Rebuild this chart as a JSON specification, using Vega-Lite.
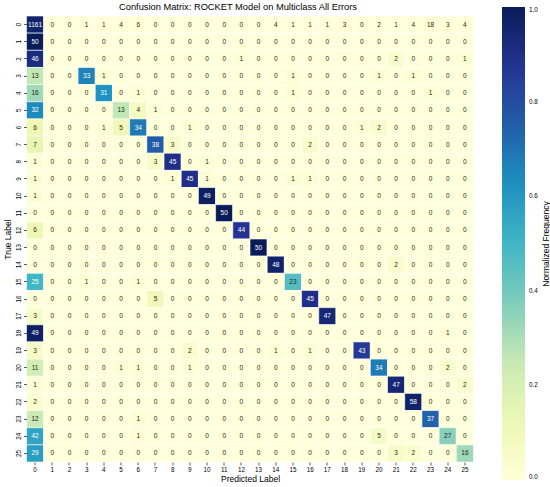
{
"$schema": "https://vega.github.io/schema/vega-lite/v6.json",
"width": 447, "height": 446,
"autosize": "none",
"padding": {"left": 26.5, "top": 16, "right": 76.5, "bottom": 25},
"background": "white",
"title": {"text": "Confusion Matrix: ROCKET Model on Multiclass All Errors", "fontSize": 9.3, "font": "Liberation Sans", "fontWeight": "normal", "color": "#000", "anchor": "middle", "frame": "group", "dx": -12, "offset": -5},
"config": {"view": {"stroke": null}, "font": "Liberation Sans"},
"data": {"values": [
{"t":0,"p":0,"c":1161,"n":0.9556},{"t":0,"p":1,"c":0,"n":0},{"t":0,"p":2,"c":0,"n":0},{"t":0,"p":3,"c":1,"n":0.0008},{"t":0,"p":4,"c":1,"n":0.0008},{"t":0,"p":5,"c":4,"n":0.0033},{"t":0,"p":6,"c":6,"n":0.0049},{"t":0,"p":7,"c":0,"n":0},{"t":0,"p":8,"c":0,"n":0},{"t":0,"p":9,"c":0,"n":0},{"t":0,"p":10,"c":0,"n":0},{"t":0,"p":11,"c":0,"n":0},{"t":0,"p":12,"c":0,"n":0},{"t":0,"p":13,"c":0,"n":0},{"t":0,"p":14,"c":4,"n":0.0033},{"t":0,"p":15,"c":1,"n":0.0008},{"t":0,"p":16,"c":1,"n":0.0008},{"t":0,"p":17,"c":1,"n":0.0008},{"t":0,"p":18,"c":3,"n":0.0025},{"t":0,"p":19,"c":0,"n":0},{"t":0,"p":20,"c":2,"n":0.0016},{"t":0,"p":21,"c":1,"n":0.0008},{"t":0,"p":22,"c":4,"n":0.0033},{"t":0,"p":23,"c":18,"n":0.0148},{"t":0,"p":24,"c":3,"n":0.0025},{"t":0,"p":25,"c":4,"n":0.0033},
{"t":1,"p":0,"c":50,"n":1},{"t":1,"p":1,"c":0,"n":0},{"t":1,"p":2,"c":0,"n":0},{"t":1,"p":3,"c":0,"n":0},{"t":1,"p":4,"c":0,"n":0},{"t":1,"p":5,"c":0,"n":0},{"t":1,"p":6,"c":0,"n":0},{"t":1,"p":7,"c":0,"n":0},{"t":1,"p":8,"c":0,"n":0},{"t":1,"p":9,"c":0,"n":0},{"t":1,"p":10,"c":0,"n":0},{"t":1,"p":11,"c":0,"n":0},{"t":1,"p":12,"c":0,"n":0},{"t":1,"p":13,"c":0,"n":0},{"t":1,"p":14,"c":0,"n":0},{"t":1,"p":15,"c":0,"n":0},{"t":1,"p":16,"c":0,"n":0},{"t":1,"p":17,"c":0,"n":0},{"t":1,"p":18,"c":0,"n":0},{"t":1,"p":19,"c":0,"n":0},{"t":1,"p":20,"c":0,"n":0},{"t":1,"p":21,"c":0,"n":0},{"t":1,"p":22,"c":0,"n":0},{"t":1,"p":23,"c":0,"n":0},{"t":1,"p":24,"c":0,"n":0},{"t":1,"p":25,"c":0,"n":0},
{"t":2,"p":0,"c":46,"n":0.92},{"t":2,"p":1,"c":0,"n":0},{"t":2,"p":2,"c":0,"n":0},{"t":2,"p":3,"c":0,"n":0},{"t":2,"p":4,"c":0,"n":0},{"t":2,"p":5,"c":0,"n":0},{"t":2,"p":6,"c":0,"n":0},{"t":2,"p":7,"c":0,"n":0},{"t":2,"p":8,"c":0,"n":0},{"t":2,"p":9,"c":0,"n":0},{"t":2,"p":10,"c":0,"n":0},{"t":2,"p":11,"c":0,"n":0},{"t":2,"p":12,"c":1,"n":0.02},{"t":2,"p":13,"c":0,"n":0},{"t":2,"p":14,"c":0,"n":0},{"t":2,"p":15,"c":0,"n":0},{"t":2,"p":16,"c":0,"n":0},{"t":2,"p":17,"c":0,"n":0},{"t":2,"p":18,"c":0,"n":0},{"t":2,"p":19,"c":0,"n":0},{"t":2,"p":20,"c":0,"n":0},{"t":2,"p":21,"c":2,"n":0.04},{"t":2,"p":22,"c":0,"n":0},{"t":2,"p":23,"c":0,"n":0},{"t":2,"p":24,"c":0,"n":0},{"t":2,"p":25,"c":1,"n":0.02},
{"t":3,"p":0,"c":13,"n":0.26},{"t":3,"p":1,"c":0,"n":0},{"t":3,"p":2,"c":0,"n":0},{"t":3,"p":3,"c":33,"n":0.66},{"t":3,"p":4,"c":1,"n":0.02},{"t":3,"p":5,"c":0,"n":0},{"t":3,"p":6,"c":0,"n":0},{"t":3,"p":7,"c":0,"n":0},{"t":3,"p":8,"c":0,"n":0},{"t":3,"p":9,"c":0,"n":0},{"t":3,"p":10,"c":0,"n":0},{"t":3,"p":11,"c":0,"n":0},{"t":3,"p":12,"c":0,"n":0},{"t":3,"p":13,"c":0,"n":0},{"t":3,"p":14,"c":0,"n":0},{"t":3,"p":15,"c":1,"n":0.02},{"t":3,"p":16,"c":0,"n":0},{"t":3,"p":17,"c":0,"n":0},{"t":3,"p":18,"c":0,"n":0},{"t":3,"p":19,"c":0,"n":0},{"t":3,"p":20,"c":1,"n":0.02},{"t":3,"p":21,"c":0,"n":0},{"t":3,"p":22,"c":1,"n":0.02},{"t":3,"p":23,"c":0,"n":0},{"t":3,"p":24,"c":0,"n":0},{"t":3,"p":25,"c":0,"n":0},
{"t":4,"p":0,"c":16,"n":0.32},{"t":4,"p":1,"c":0,"n":0},{"t":4,"p":2,"c":0,"n":0},{"t":4,"p":3,"c":0,"n":0},{"t":4,"p":4,"c":31,"n":0.62},{"t":4,"p":5,"c":0,"n":0},{"t":4,"p":6,"c":1,"n":0.02},{"t":4,"p":7,"c":0,"n":0},{"t":4,"p":8,"c":0,"n":0},{"t":4,"p":9,"c":0,"n":0},{"t":4,"p":10,"c":0,"n":0},{"t":4,"p":11,"c":0,"n":0},{"t":4,"p":12,"c":0,"n":0},{"t":4,"p":13,"c":0,"n":0},{"t":4,"p":14,"c":0,"n":0},{"t":4,"p":15,"c":1,"n":0.02},{"t":4,"p":16,"c":0,"n":0},{"t":4,"p":17,"c":0,"n":0},{"t":4,"p":18,"c":0,"n":0},{"t":4,"p":19,"c":0,"n":0},{"t":4,"p":20,"c":0,"n":0},{"t":4,"p":21,"c":0,"n":0},{"t":4,"p":22,"c":0,"n":0},{"t":4,"p":23,"c":1,"n":0.02},{"t":4,"p":24,"c":0,"n":0},{"t":4,"p":25,"c":0,"n":0},
{"t":5,"p":0,"c":32,"n":0.64},{"t":5,"p":1,"c":0,"n":0},{"t":5,"p":2,"c":0,"n":0},{"t":5,"p":3,"c":0,"n":0},{"t":5,"p":4,"c":0,"n":0},{"t":5,"p":5,"c":13,"n":0.26},{"t":5,"p":6,"c":4,"n":0.08},{"t":5,"p":7,"c":1,"n":0.02},{"t":5,"p":8,"c":0,"n":0},{"t":5,"p":9,"c":0,"n":0},{"t":5,"p":10,"c":0,"n":0},{"t":5,"p":11,"c":0,"n":0},{"t":5,"p":12,"c":0,"n":0},{"t":5,"p":13,"c":0,"n":0},{"t":5,"p":14,"c":0,"n":0},{"t":5,"p":15,"c":0,"n":0},{"t":5,"p":16,"c":0,"n":0},{"t":5,"p":17,"c":0,"n":0},{"t":5,"p":18,"c":0,"n":0},{"t":5,"p":19,"c":0,"n":0},{"t":5,"p":20,"c":0,"n":0},{"t":5,"p":21,"c":0,"n":0},{"t":5,"p":22,"c":0,"n":0},{"t":5,"p":23,"c":0,"n":0},{"t":5,"p":24,"c":0,"n":0},{"t":5,"p":25,"c":0,"n":0},
{"t":6,"p":0,"c":6,"n":0.12},{"t":6,"p":1,"c":0,"n":0},{"t":6,"p":2,"c":0,"n":0},{"t":6,"p":3,"c":0,"n":0},{"t":6,"p":4,"c":1,"n":0.02},{"t":6,"p":5,"c":5,"n":0.1},{"t":6,"p":6,"c":34,"n":0.68},{"t":6,"p":7,"c":0,"n":0},{"t":6,"p":8,"c":0,"n":0},{"t":6,"p":9,"c":1,"n":0.02},{"t":6,"p":10,"c":0,"n":0},{"t":6,"p":11,"c":0,"n":0},{"t":6,"p":12,"c":0,"n":0},{"t":6,"p":13,"c":0,"n":0},{"t":6,"p":14,"c":0,"n":0},{"t":6,"p":15,"c":0,"n":0},{"t":6,"p":16,"c":0,"n":0},{"t":6,"p":17,"c":0,"n":0},{"t":6,"p":18,"c":0,"n":0},{"t":6,"p":19,"c":1,"n":0.02},{"t":6,"p":20,"c":2,"n":0.04},{"t":6,"p":21,"c":0,"n":0},{"t":6,"p":22,"c":0,"n":0},{"t":6,"p":23,"c":0,"n":0},{"t":6,"p":24,"c":0,"n":0},{"t":6,"p":25,"c":0,"n":0},
{"t":7,"p":0,"c":7,"n":0.14},{"t":7,"p":1,"c":0,"n":0},{"t":7,"p":2,"c":0,"n":0},{"t":7,"p":3,"c":0,"n":0},{"t":7,"p":4,"c":0,"n":0},{"t":7,"p":5,"c":0,"n":0},{"t":7,"p":6,"c":0,"n":0},{"t":7,"p":7,"c":38,"n":0.76},{"t":7,"p":8,"c":3,"n":0.06},{"t":7,"p":9,"c":0,"n":0},{"t":7,"p":10,"c":0,"n":0},{"t":7,"p":11,"c":0,"n":0},{"t":7,"p":12,"c":0,"n":0},{"t":7,"p":13,"c":0,"n":0},{"t":7,"p":14,"c":0,"n":0},{"t":7,"p":15,"c":0,"n":0},{"t":7,"p":16,"c":2,"n":0.04},{"t":7,"p":17,"c":0,"n":0},{"t":7,"p":18,"c":0,"n":0},{"t":7,"p":19,"c":0,"n":0},{"t":7,"p":20,"c":0,"n":0},{"t":7,"p":21,"c":0,"n":0},{"t":7,"p":22,"c":0,"n":0},{"t":7,"p":23,"c":0,"n":0},{"t":7,"p":24,"c":0,"n":0},{"t":7,"p":25,"c":0,"n":0},
{"t":8,"p":0,"c":1,"n":0.02},{"t":8,"p":1,"c":0,"n":0},{"t":8,"p":2,"c":0,"n":0},{"t":8,"p":3,"c":0,"n":0},{"t":8,"p":4,"c":0,"n":0},{"t":8,"p":5,"c":0,"n":0},{"t":8,"p":6,"c":0,"n":0},{"t":8,"p":7,"c":3,"n":0.06},{"t":8,"p":8,"c":45,"n":0.9},{"t":8,"p":9,"c":0,"n":0},{"t":8,"p":10,"c":1,"n":0.02},{"t":8,"p":11,"c":0,"n":0},{"t":8,"p":12,"c":0,"n":0},{"t":8,"p":13,"c":0,"n":0},{"t":8,"p":14,"c":0,"n":0},{"t":8,"p":15,"c":0,"n":0},{"t":8,"p":16,"c":0,"n":0},{"t":8,"p":17,"c":0,"n":0},{"t":8,"p":18,"c":0,"n":0},{"t":8,"p":19,"c":0,"n":0},{"t":8,"p":20,"c":0,"n":0},{"t":8,"p":21,"c":0,"n":0},{"t":8,"p":22,"c":0,"n":0},{"t":8,"p":23,"c":0,"n":0},{"t":8,"p":24,"c":0,"n":0},{"t":8,"p":25,"c":0,"n":0},
{"t":9,"p":0,"c":1,"n":0.02},{"t":9,"p":1,"c":0,"n":0},{"t":9,"p":2,"c":0,"n":0},{"t":9,"p":3,"c":0,"n":0},{"t":9,"p":4,"c":0,"n":0},{"t":9,"p":5,"c":0,"n":0},{"t":9,"p":6,"c":0,"n":0},{"t":9,"p":7,"c":0,"n":0},{"t":9,"p":8,"c":1,"n":0.02},{"t":9,"p":9,"c":45,"n":0.9},{"t":9,"p":10,"c":1,"n":0.02},{"t":9,"p":11,"c":0,"n":0},{"t":9,"p":12,"c":0,"n":0},{"t":9,"p":13,"c":0,"n":0},{"t":9,"p":14,"c":0,"n":0},{"t":9,"p":15,"c":1,"n":0.02},{"t":9,"p":16,"c":1,"n":0.02},{"t":9,"p":17,"c":0,"n":0},{"t":9,"p":18,"c":0,"n":0},{"t":9,"p":19,"c":0,"n":0},{"t":9,"p":20,"c":0,"n":0},{"t":9,"p":21,"c":0,"n":0},{"t":9,"p":22,"c":0,"n":0},{"t":9,"p":23,"c":0,"n":0},{"t":9,"p":24,"c":0,"n":0},{"t":9,"p":25,"c":0,"n":0},
{"t":10,"p":0,"c":1,"n":0.02},{"t":10,"p":1,"c":0,"n":0},{"t":10,"p":2,"c":0,"n":0},{"t":10,"p":3,"c":0,"n":0},{"t":10,"p":4,"c":0,"n":0},{"t":10,"p":5,"c":0,"n":0},{"t":10,"p":6,"c":0,"n":0},{"t":10,"p":7,"c":0,"n":0},{"t":10,"p":8,"c":0,"n":0},{"t":10,"p":9,"c":0,"n":0},{"t":10,"p":10,"c":49,"n":0.98},{"t":10,"p":11,"c":0,"n":0},{"t":10,"p":12,"c":0,"n":0},{"t":10,"p":13,"c":0,"n":0},{"t":10,"p":14,"c":0,"n":0},{"t":10,"p":15,"c":0,"n":0},{"t":10,"p":16,"c":0,"n":0},{"t":10,"p":17,"c":0,"n":0},{"t":10,"p":18,"c":0,"n":0},{"t":10,"p":19,"c":0,"n":0},{"t":10,"p":20,"c":0,"n":0},{"t":10,"p":21,"c":0,"n":0},{"t":10,"p":22,"c":0,"n":0},{"t":10,"p":23,"c":0,"n":0},{"t":10,"p":24,"c":0,"n":0},{"t":10,"p":25,"c":0,"n":0},
{"t":11,"p":0,"c":0,"n":0},{"t":11,"p":1,"c":0,"n":0},{"t":11,"p":2,"c":0,"n":0},{"t":11,"p":3,"c":0,"n":0},{"t":11,"p":4,"c":0,"n":0},{"t":11,"p":5,"c":0,"n":0},{"t":11,"p":6,"c":0,"n":0},{"t":11,"p":7,"c":0,"n":0},{"t":11,"p":8,"c":0,"n":0},{"t":11,"p":9,"c":0,"n":0},{"t":11,"p":10,"c":0,"n":0},{"t":11,"p":11,"c":50,"n":1},{"t":11,"p":12,"c":0,"n":0},{"t":11,"p":13,"c":0,"n":0},{"t":11,"p":14,"c":0,"n":0},{"t":11,"p":15,"c":0,"n":0},{"t":11,"p":16,"c":0,"n":0},{"t":11,"p":17,"c":0,"n":0},{"t":11,"p":18,"c":0,"n":0},{"t":11,"p":19,"c":0,"n":0},{"t":11,"p":20,"c":0,"n":0},{"t":11,"p":21,"c":0,"n":0},{"t":11,"p":22,"c":0,"n":0},{"t":11,"p":23,"c":0,"n":0},{"t":11,"p":24,"c":0,"n":0},{"t":11,"p":25,"c":0,"n":0},
{"t":12,"p":0,"c":6,"n":0.12},{"t":12,"p":1,"c":0,"n":0},{"t":12,"p":2,"c":0,"n":0},{"t":12,"p":3,"c":0,"n":0},{"t":12,"p":4,"c":0,"n":0},{"t":12,"p":5,"c":0,"n":0},{"t":12,"p":6,"c":0,"n":0},{"t":12,"p":7,"c":0,"n":0},{"t":12,"p":8,"c":0,"n":0},{"t":12,"p":9,"c":0,"n":0},{"t":12,"p":10,"c":0,"n":0},{"t":12,"p":11,"c":0,"n":0},{"t":12,"p":12,"c":44,"n":0.88},{"t":12,"p":13,"c":0,"n":0},{"t":12,"p":14,"c":0,"n":0},{"t":12,"p":15,"c":0,"n":0},{"t":12,"p":16,"c":0,"n":0},{"t":12,"p":17,"c":0,"n":0},{"t":12,"p":18,"c":0,"n":0},{"t":12,"p":19,"c":0,"n":0},{"t":12,"p":20,"c":0,"n":0},{"t":12,"p":21,"c":0,"n":0},{"t":12,"p":22,"c":0,"n":0},{"t":12,"p":23,"c":0,"n":0},{"t":12,"p":24,"c":0,"n":0},{"t":12,"p":25,"c":0,"n":0},
{"t":13,"p":0,"c":0,"n":0},{"t":13,"p":1,"c":0,"n":0},{"t":13,"p":2,"c":0,"n":0},{"t":13,"p":3,"c":0,"n":0},{"t":13,"p":4,"c":0,"n":0},{"t":13,"p":5,"c":0,"n":0},{"t":13,"p":6,"c":0,"n":0},{"t":13,"p":7,"c":0,"n":0},{"t":13,"p":8,"c":0,"n":0},{"t":13,"p":9,"c":0,"n":0},{"t":13,"p":10,"c":0,"n":0},{"t":13,"p":11,"c":0,"n":0},{"t":13,"p":12,"c":0,"n":0},{"t":13,"p":13,"c":50,"n":1},{"t":13,"p":14,"c":0,"n":0},{"t":13,"p":15,"c":0,"n":0},{"t":13,"p":16,"c":0,"n":0},{"t":13,"p":17,"c":0,"n":0},{"t":13,"p":18,"c":0,"n":0},{"t":13,"p":19,"c":0,"n":0},{"t":13,"p":20,"c":0,"n":0},{"t":13,"p":21,"c":0,"n":0},{"t":13,"p":22,"c":0,"n":0},{"t":13,"p":23,"c":0,"n":0},{"t":13,"p":24,"c":0,"n":0},{"t":13,"p":25,"c":0,"n":0},
{"t":14,"p":0,"c":0,"n":0},{"t":14,"p":1,"c":0,"n":0},{"t":14,"p":2,"c":0,"n":0},{"t":14,"p":3,"c":0,"n":0},{"t":14,"p":4,"c":0,"n":0},{"t":14,"p":5,"c":0,"n":0},{"t":14,"p":6,"c":0,"n":0},{"t":14,"p":7,"c":0,"n":0},{"t":14,"p":8,"c":0,"n":0},{"t":14,"p":9,"c":0,"n":0},{"t":14,"p":10,"c":0,"n":0},{"t":14,"p":11,"c":0,"n":0},{"t":14,"p":12,"c":0,"n":0},{"t":14,"p":13,"c":0,"n":0},{"t":14,"p":14,"c":48,"n":0.96},{"t":14,"p":15,"c":0,"n":0},{"t":14,"p":16,"c":0,"n":0},{"t":14,"p":17,"c":0,"n":0},{"t":14,"p":18,"c":0,"n":0},{"t":14,"p":19,"c":0,"n":0},{"t":14,"p":20,"c":0,"n":0},{"t":14,"p":21,"c":2,"n":0.04},{"t":14,"p":22,"c":0,"n":0},{"t":14,"p":23,"c":0,"n":0},{"t":14,"p":24,"c":0,"n":0},{"t":14,"p":25,"c":0,"n":0},
{"t":15,"p":0,"c":25,"n":0.5},{"t":15,"p":1,"c":0,"n":0},{"t":15,"p":2,"c":0,"n":0},{"t":15,"p":3,"c":1,"n":0.02},{"t":15,"p":4,"c":0,"n":0},{"t":15,"p":5,"c":0,"n":0},{"t":15,"p":6,"c":1,"n":0.02},{"t":15,"p":7,"c":0,"n":0},{"t":15,"p":8,"c":0,"n":0},{"t":15,"p":9,"c":0,"n":0},{"t":15,"p":10,"c":0,"n":0},{"t":15,"p":11,"c":0,"n":0},{"t":15,"p":12,"c":0,"n":0},{"t":15,"p":13,"c":0,"n":0},{"t":15,"p":14,"c":0,"n":0},{"t":15,"p":15,"c":23,"n":0.46},{"t":15,"p":16,"c":0,"n":0},{"t":15,"p":17,"c":0,"n":0},{"t":15,"p":18,"c":0,"n":0},{"t":15,"p":19,"c":0,"n":0},{"t":15,"p":20,"c":0,"n":0},{"t":15,"p":21,"c":0,"n":0},{"t":15,"p":22,"c":0,"n":0},{"t":15,"p":23,"c":0,"n":0},{"t":15,"p":24,"c":0,"n":0},{"t":15,"p":25,"c":0,"n":0},
{"t":16,"p":0,"c":0,"n":0},{"t":16,"p":1,"c":0,"n":0},{"t":16,"p":2,"c":0,"n":0},{"t":16,"p":3,"c":0,"n":0},{"t":16,"p":4,"c":0,"n":0},{"t":16,"p":5,"c":0,"n":0},{"t":16,"p":6,"c":0,"n":0},{"t":16,"p":7,"c":5,"n":0.1},{"t":16,"p":8,"c":0,"n":0},{"t":16,"p":9,"c":0,"n":0},{"t":16,"p":10,"c":0,"n":0},{"t":16,"p":11,"c":0,"n":0},{"t":16,"p":12,"c":0,"n":0},{"t":16,"p":13,"c":0,"n":0},{"t":16,"p":14,"c":0,"n":0},{"t":16,"p":15,"c":0,"n":0},{"t":16,"p":16,"c":45,"n":0.9},{"t":16,"p":17,"c":0,"n":0},{"t":16,"p":18,"c":0,"n":0},{"t":16,"p":19,"c":0,"n":0},{"t":16,"p":20,"c":0,"n":0},{"t":16,"p":21,"c":0,"n":0},{"t":16,"p":22,"c":0,"n":0},{"t":16,"p":23,"c":0,"n":0},{"t":16,"p":24,"c":0,"n":0},{"t":16,"p":25,"c":0,"n":0},
{"t":17,"p":0,"c":3,"n":0.06},{"t":17,"p":1,"c":0,"n":0},{"t":17,"p":2,"c":0,"n":0},{"t":17,"p":3,"c":0,"n":0},{"t":17,"p":4,"c":0,"n":0},{"t":17,"p":5,"c":0,"n":0},{"t":17,"p":6,"c":0,"n":0},{"t":17,"p":7,"c":0,"n":0},{"t":17,"p":8,"c":0,"n":0},{"t":17,"p":9,"c":0,"n":0},{"t":17,"p":10,"c":0,"n":0},{"t":17,"p":11,"c":0,"n":0},{"t":17,"p":12,"c":0,"n":0},{"t":17,"p":13,"c":0,"n":0},{"t":17,"p":14,"c":0,"n":0},{"t":17,"p":15,"c":0,"n":0},{"t":17,"p":16,"c":0,"n":0},{"t":17,"p":17,"c":47,"n":0.94},{"t":17,"p":18,"c":0,"n":0},{"t":17,"p":19,"c":0,"n":0},{"t":17,"p":20,"c":0,"n":0},{"t":17,"p":21,"c":0,"n":0},{"t":17,"p":22,"c":0,"n":0},{"t":17,"p":23,"c":0,"n":0},{"t":17,"p":24,"c":0,"n":0},{"t":17,"p":25,"c":0,"n":0},
{"t":18,"p":0,"c":49,"n":0.98},{"t":18,"p":1,"c":0,"n":0},{"t":18,"p":2,"c":0,"n":0},{"t":18,"p":3,"c":0,"n":0},{"t":18,"p":4,"c":0,"n":0},{"t":18,"p":5,"c":0,"n":0},{"t":18,"p":6,"c":0,"n":0},{"t":18,"p":7,"c":0,"n":0},{"t":18,"p":8,"c":0,"n":0},{"t":18,"p":9,"c":0,"n":0},{"t":18,"p":10,"c":0,"n":0},{"t":18,"p":11,"c":0,"n":0},{"t":18,"p":12,"c":0,"n":0},{"t":18,"p":13,"c":0,"n":0},{"t":18,"p":14,"c":0,"n":0},{"t":18,"p":15,"c":0,"n":0},{"t":18,"p":16,"c":0,"n":0},{"t":18,"p":17,"c":0,"n":0},{"t":18,"p":18,"c":0,"n":0},{"t":18,"p":19,"c":0,"n":0},{"t":18,"p":20,"c":0,"n":0},{"t":18,"p":21,"c":0,"n":0},{"t":18,"p":22,"c":0,"n":0},{"t":18,"p":23,"c":0,"n":0},{"t":18,"p":24,"c":1,"n":0.02},{"t":18,"p":25,"c":0,"n":0},
{"t":19,"p":0,"c":3,"n":0.06},{"t":19,"p":1,"c":0,"n":0},{"t":19,"p":2,"c":0,"n":0},{"t":19,"p":3,"c":0,"n":0},{"t":19,"p":4,"c":0,"n":0},{"t":19,"p":5,"c":0,"n":0},{"t":19,"p":6,"c":0,"n":0},{"t":19,"p":7,"c":0,"n":0},{"t":19,"p":8,"c":0,"n":0},{"t":19,"p":9,"c":2,"n":0.04},{"t":19,"p":10,"c":0,"n":0},{"t":19,"p":11,"c":0,"n":0},{"t":19,"p":12,"c":0,"n":0},{"t":19,"p":13,"c":0,"n":0},{"t":19,"p":14,"c":1,"n":0.02},{"t":19,"p":15,"c":0,"n":0},{"t":19,"p":16,"c":1,"n":0.02},{"t":19,"p":17,"c":0,"n":0},{"t":19,"p":18,"c":0,"n":0},{"t":19,"p":19,"c":43,"n":0.86},{"t":19,"p":20,"c":0,"n":0},{"t":19,"p":21,"c":0,"n":0},{"t":19,"p":22,"c":0,"n":0},{"t":19,"p":23,"c":0,"n":0},{"t":19,"p":24,"c":0,"n":0},{"t":19,"p":25,"c":0,"n":0},
{"t":20,"p":0,"c":11,"n":0.22},{"t":20,"p":1,"c":0,"n":0},{"t":20,"p":2,"c":0,"n":0},{"t":20,"p":3,"c":0,"n":0},{"t":20,"p":4,"c":0,"n":0},{"t":20,"p":5,"c":1,"n":0.02},{"t":20,"p":6,"c":1,"n":0.02},{"t":20,"p":7,"c":0,"n":0},{"t":20,"p":8,"c":0,"n":0},{"t":20,"p":9,"c":1,"n":0.02},{"t":20,"p":10,"c":0,"n":0},{"t":20,"p":11,"c":0,"n":0},{"t":20,"p":12,"c":0,"n":0},{"t":20,"p":13,"c":0,"n":0},{"t":20,"p":14,"c":0,"n":0},{"t":20,"p":15,"c":0,"n":0},{"t":20,"p":16,"c":0,"n":0},{"t":20,"p":17,"c":0,"n":0},{"t":20,"p":18,"c":0,"n":0},{"t":20,"p":19,"c":0,"n":0},{"t":20,"p":20,"c":34,"n":0.68},{"t":20,"p":21,"c":0,"n":0},{"t":20,"p":22,"c":0,"n":0},{"t":20,"p":23,"c":0,"n":0},{"t":20,"p":24,"c":2,"n":0.04},{"t":20,"p":25,"c":0,"n":0},
{"t":21,"p":0,"c":1,"n":0.02},{"t":21,"p":1,"c":0,"n":0},{"t":21,"p":2,"c":0,"n":0},{"t":21,"p":3,"c":0,"n":0},{"t":21,"p":4,"c":0,"n":0},{"t":21,"p":5,"c":0,"n":0},{"t":21,"p":6,"c":0,"n":0},{"t":21,"p":7,"c":0,"n":0},{"t":21,"p":8,"c":0,"n":0},{"t":21,"p":9,"c":0,"n":0},{"t":21,"p":10,"c":0,"n":0},{"t":21,"p":11,"c":0,"n":0},{"t":21,"p":12,"c":0,"n":0},{"t":21,"p":13,"c":0,"n":0},{"t":21,"p":14,"c":0,"n":0},{"t":21,"p":15,"c":0,"n":0},{"t":21,"p":16,"c":0,"n":0},{"t":21,"p":17,"c":0,"n":0},{"t":21,"p":18,"c":0,"n":0},{"t":21,"p":19,"c":0,"n":0},{"t":21,"p":20,"c":0,"n":0},{"t":21,"p":21,"c":47,"n":0.94},{"t":21,"p":22,"c":0,"n":0},{"t":21,"p":23,"c":0,"n":0},{"t":21,"p":24,"c":0,"n":0},{"t":21,"p":25,"c":2,"n":0.04},
{"t":22,"p":0,"c":2,"n":0.0333},{"t":22,"p":1,"c":0,"n":0},{"t":22,"p":2,"c":0,"n":0},{"t":22,"p":3,"c":0,"n":0},{"t":22,"p":4,"c":0,"n":0},{"t":22,"p":5,"c":0,"n":0},{"t":22,"p":6,"c":0,"n":0},{"t":22,"p":7,"c":0,"n":0},{"t":22,"p":8,"c":0,"n":0},{"t":22,"p":9,"c":0,"n":0},{"t":22,"p":10,"c":0,"n":0},{"t":22,"p":11,"c":0,"n":0},{"t":22,"p":12,"c":0,"n":0},{"t":22,"p":13,"c":0,"n":0},{"t":22,"p":14,"c":0,"n":0},{"t":22,"p":15,"c":0,"n":0},{"t":22,"p":16,"c":0,"n":0},{"t":22,"p":17,"c":0,"n":0},{"t":22,"p":18,"c":0,"n":0},{"t":22,"p":19,"c":0,"n":0},{"t":22,"p":20,"c":0,"n":0},{"t":22,"p":21,"c":0,"n":0},{"t":22,"p":22,"c":58,"n":0.9667},{"t":22,"p":23,"c":0,"n":0},{"t":22,"p":24,"c":0,"n":0},{"t":22,"p":25,"c":0,"n":0},
{"t":23,"p":0,"c":12,"n":0.24},{"t":23,"p":1,"c":0,"n":0},{"t":23,"p":2,"c":0,"n":0},{"t":23,"p":3,"c":0,"n":0},{"t":23,"p":4,"c":0,"n":0},{"t":23,"p":5,"c":0,"n":0},{"t":23,"p":6,"c":1,"n":0.02},{"t":23,"p":7,"c":0,"n":0},{"t":23,"p":8,"c":0,"n":0},{"t":23,"p":9,"c":0,"n":0},{"t":23,"p":10,"c":0,"n":0},{"t":23,"p":11,"c":0,"n":0},{"t":23,"p":12,"c":0,"n":0},{"t":23,"p":13,"c":0,"n":0},{"t":23,"p":14,"c":0,"n":0},{"t":23,"p":15,"c":0,"n":0},{"t":23,"p":16,"c":0,"n":0},{"t":23,"p":17,"c":0,"n":0},{"t":23,"p":18,"c":0,"n":0},{"t":23,"p":19,"c":0,"n":0},{"t":23,"p":20,"c":0,"n":0},{"t":23,"p":21,"c":0,"n":0},{"t":23,"p":22,"c":0,"n":0},{"t":23,"p":23,"c":37,"n":0.74},{"t":23,"p":24,"c":0,"n":0},{"t":23,"p":25,"c":0,"n":0},
{"t":24,"p":0,"c":42,"n":0.56},{"t":24,"p":1,"c":0,"n":0},{"t":24,"p":2,"c":0,"n":0},{"t":24,"p":3,"c":0,"n":0},{"t":24,"p":4,"c":0,"n":0},{"t":24,"p":5,"c":0,"n":0},{"t":24,"p":6,"c":1,"n":0.0133},{"t":24,"p":7,"c":0,"n":0},{"t":24,"p":8,"c":0,"n":0},{"t":24,"p":9,"c":0,"n":0},{"t":24,"p":10,"c":0,"n":0},{"t":24,"p":11,"c":0,"n":0},{"t":24,"p":12,"c":0,"n":0},{"t":24,"p":13,"c":0,"n":0},{"t":24,"p":14,"c":0,"n":0},{"t":24,"p":15,"c":0,"n":0},{"t":24,"p":16,"c":0,"n":0},{"t":24,"p":17,"c":0,"n":0},{"t":24,"p":18,"c":0,"n":0},{"t":24,"p":19,"c":0,"n":0},{"t":24,"p":20,"c":5,"n":0.0667},{"t":24,"p":21,"c":0,"n":0},{"t":24,"p":22,"c":0,"n":0},{"t":24,"p":23,"c":0,"n":0},{"t":24,"p":24,"c":27,"n":0.36},{"t":24,"p":25,"c":0,"n":0},
{"t":25,"p":0,"c":29,"n":0.58},{"t":25,"p":1,"c":0,"n":0},{"t":25,"p":2,"c":0,"n":0},{"t":25,"p":3,"c":0,"n":0},{"t":25,"p":4,"c":0,"n":0},{"t":25,"p":5,"c":0,"n":0},{"t":25,"p":6,"c":0,"n":0},{"t":25,"p":7,"c":0,"n":0},{"t":25,"p":8,"c":0,"n":0},{"t":25,"p":9,"c":0,"n":0},{"t":25,"p":10,"c":0,"n":0},{"t":25,"p":11,"c":0,"n":0},{"t":25,"p":12,"c":0,"n":0},{"t":25,"p":13,"c":0,"n":0},{"t":25,"p":14,"c":0,"n":0},{"t":25,"p":15,"c":0,"n":0},{"t":25,"p":16,"c":0,"n":0},{"t":25,"p":17,"c":0,"n":0},{"t":25,"p":18,"c":0,"n":0},{"t":25,"p":19,"c":0,"n":0},{"t":25,"p":20,"c":0,"n":0},{"t":25,"p":21,"c":3,"n":0.06},{"t":25,"p":22,"c":2,"n":0.04},{"t":25,"p":23,"c":0,"n":0},{"t":25,"p":24,"c":0,"n":0},{"t":25,"p":25,"c":16,"n":0.32}
]},
"encoding": {
  "x": {"field": "p", "type": "ordinal", "scale": {"paddingInner": 0, "paddingOuter": 0},
        "axis": {"title": "Predicted Label", "labelAngle": 0, "labelFontSize": 6.3, "titleFontSize": 8.5, "titleFontWeight": "normal", "tickSize": 3, "tickColor": "#333", "tickWidth": 0.8, "domain": false, "grid": false, "labelPadding": 1.5, "titlePadding": 2, "labelColor": "#000", "titleColor": "#000"}}
},
"layer": [
  {"mark": {"type": "rect", "stroke": "white", "strokeWidth": 0.6},
   "encoding": {
      "y": {"field": "t", "type": "ordinal", "scale": {"paddingInner": 0, "paddingOuter": 0},
            "axis": {"orient": "left", "title": "True Label", "labelAngle": 270, "labelFontSize": 6.3, "titleFontSize": 8.5, "titleFontWeight": "normal", "tickSize": 3, "tickColor": "#333", "tickWidth": 0.8, "domain": false, "grid": false, "labelPadding": 2, "titlePadding": 3, "labelColor": "#000", "titleColor": "#000"}},
      "color": {"field": "n", "type": "quantitative",
      "scale": {"domain": [0, 0.125, 0.25, 0.375, 0.5, 0.625, 0.75, 0.875, 1], "range": ["#ffffd9", "#edf8b1", "#c7e9b4", "#7fcdbb", "#41b6c4", "#1d91c0", "#225ea8", "#253494", "#081d58"], "interpolate": "rgb"},
      "legend": {"orient": "none", "legendX": 475.5, "legendY": -9, "direction": "vertical", "gradientLength": 473, "gradientThickness": 23, "gradientStrokeWidth": 0,
                 "title": null,
                 "values": [0, 0.2, 0.4, 0.6, 0.8, 1], "format": ".1f", "labelFontSize": 6.3, "labelOffset": 4, "labelColor": "#000", "padding": 0}}}},
  {"mark": {"type": "text", "fontSize": 6.5, "font": "Liberation Sans"},
   "encoding": {
      "y": {"field": "t", "type": "ordinal", "scale": {"paddingInner": 0, "paddingOuter": 0},
            "axis": {"orient": "right", "title": "Normalized Frequency", "titleAngle": 270, "titleX": 71.5, "titleY": 227.5, "titleAlign": "center", "titleBaseline": "middle", "titleFontSize": 8.5, "titleFontWeight": "normal", "titleColor": "#000", "labels": false, "ticks": false, "domain": false, "grid": false}},
      "text": {"field": "c", "type": "quantitative"},
      "color": {"condition": {"test": "datum.n >= 0.48", "value": "white"}, "value": "#262626"}}}
],
"resolve": {"scale": {"y": "independent"}}
}
